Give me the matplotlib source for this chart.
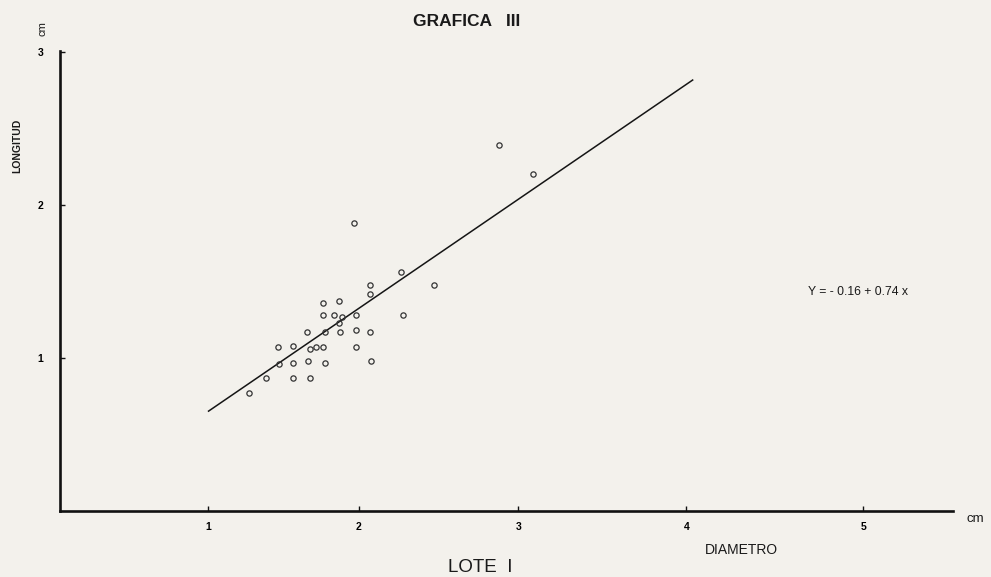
import numpy as np
import matplotlib
matplotlib.use("Agg")
import matplotlib.pyplot as plt

plt.rcParams['font.family'] = ['Liberation Sans', 'DejaVu Sans']

# ---- data ----
diametro = [2.27, 2.07, 2.48, 2.07, 1.77, 1.87, 1.77, 1.84, 1.89, 1.98, 2.28, 1.87,
            1.66, 1.78, 1.88, 1.98, 2.07, 1.47, 1.57, 1.68, 1.72, 1.77, 1.98,
            1.48, 1.57, 1.67, 1.78, 2.08, 1.39, 1.57, 1.68, 1.28, 2.88, 3.09, 1.97]
longitud = [1.56, 1.48, 1.48, 1.42, 1.36, 1.37, 1.28, 1.28, 1.27, 1.28, 1.28, 1.23,
            1.17, 1.17, 1.17, 1.18, 1.17, 1.07, 1.08, 1.06, 1.07, 1.07, 1.07,
            0.96, 0.97, 0.98, 0.97, 0.98, 0.87, 0.87, 0.87, 0.77, 2.39, 2.20, 1.88]
line_x = [1.00, 4.04]
line_y = [0.65, 2.82]
x_ticks = [1, 2, 3, 4, 5]
y_ticks = [1, 2, 3]
equation = "Y = - 0.16 + 0.74 x"

# scanned page: x axis spacing grows slightly to the right
k = 0.0312
def fwd(x):
    x = np.asarray(x, dtype=float)
    return x + k * x * x
def inv(f):
    f = np.asarray(f, dtype=float)
    return (-1 + np.sqrt(np.maximum(1 + 4 * k * f, 1e-9))) / (2 * k)

bg = '#f3f1ec'
fig = plt.figure(figsize=(9.91, 5.77), dpi=100, facecolor=bg)
ax = fig.add_axes([60 / 991, 1 - 511 / 577, 893 / 991, 460 / 577])
ax.set_facecolor(bg)
ax.set_xscale('function', functions=(fwd, inv))
ax.set_xlim(-0.041, 5.491)
ax.set_ylim(0, 3.007)

for s in ['top', 'right']:
    ax.spines[s].set_visible(False)
for s in ['left', 'bottom']:
    ax.spines[s].set_linewidth(1.9)
    ax.spines[s].set_color('#111111')

ax.set_xticks(x_ticks)
ax.set_xticklabels([str(t) for t in x_ticks], fontsize=7.5, fontweight='bold')
ax.set_yticks(y_ticks)
ax.set_yticklabels([str(t) for t in y_ticks], fontsize=7.5, fontweight='bold')
ax.xaxis.set_minor_locator(matplotlib.ticker.NullLocator())
ax.tick_params(axis='x', direction='in', length=3.5, width=1.0, pad=8, color='#111111')
ax.tick_params(axis='y', direction='in', length=3.5, width=1.0, pad=12, color='#111111')

ax.plot(line_x, line_y, color='#151515', lw=1.1, solid_capstyle='butt')
ax.plot(diametro, longitud, linestyle='none', marker='o', markersize=3.8,
        markerfacecolor='none', markeredgecolor='#333333', markeredgewidth=0.9)

fig.text(467 / 991, 1 - 21 / 577, "GRAFICA   III", ha='center', va='center',
         fontsize=12.5, fontweight='bold', color='#1a1a1a')
fig.text(43 / 991, 1 - 29 / 577, "cm", rotation=90, ha='center', va='center',
         fontsize=8, color='#1a1a1a')
fig.text(17 / 991, 1 - 146 / 577, "LONGITUD", rotation=90, ha='center', va='center',
         fontsize=7.5, fontweight='bold', color='#1a1a1a')
fig.text(975 / 991, 1 - 519 / 577, "cm", ha='center', va='center',
         fontsize=9.5, color='#1a1a1a')
fig.text(741 / 991, 1 - 550 / 577, "DIAMETRO", ha='center', va='center',
         fontsize=10, color='#1a1a1a')
fig.text(480 / 991, 1 - 568 / 577, "LOTE  I", ha='center', va='center',
         fontsize=13.5, color='#1a1a1a')
fig.text(858 / 991, 1 - 292 / 577, equation, ha='center', va='center',
         fontsize=8.8, color='#1a1a1a')

fig.savefig('out.png', dpi=100, facecolor=bg)
